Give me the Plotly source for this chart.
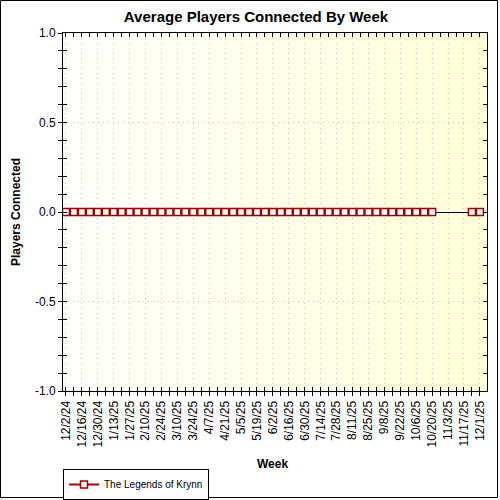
import plotly.graph_objects as go

# weekly dates and average players (None = no data that week)
weeks = ['2024-12-02', '2024-12-09', '2024-12-16', '2024-12-23', '2024-12-30',
         '2025-01-06', '2025-01-13', '2025-01-20', '2025-01-27',
         '2025-02-03', '2025-02-10', '2025-02-17', '2025-02-24',
         '2025-03-03', '2025-03-10', '2025-03-17', '2025-03-24', '2025-03-31',
         '2025-04-07', '2025-04-14', '2025-04-21', '2025-04-28',
         '2025-05-05', '2025-05-12', '2025-05-19', '2025-05-26',
         '2025-06-02', '2025-06-09', '2025-06-16', '2025-06-23', '2025-06-30',
         '2025-07-07', '2025-07-14', '2025-07-21', '2025-07-28',
         '2025-08-04', '2025-08-11', '2025-08-18', '2025-08-25',
         '2025-09-01', '2025-09-08', '2025-09-15', '2025-09-22', '2025-09-29',
         '2025-10-06', '2025-10-13', '2025-10-20', '2025-10-27',
         '2025-11-03', '2025-11-10', '2025-11-17', '2025-11-24', '2025-12-01']
players = [0, 0, 0, 0, 0,
           0, 0, 0, 0,
           0, 0, 0, 0,
           0, 0, 0, 0, 0,
           0, 0, 0, 0,
           0, 0, 0, 0,
           0, 0, 0, 0, 0,
           0, 0, 0, 0,
           0, 0, 0, 0,
           0, 0, 0, 0, 0,
           0, 0, 0, None,
           None, None, None, 0, 0]
series_name = 'The Legends of Krynn'
y_ticks = [-1.0, -0.5, 0.0, 0.5, 1.0]
y_labels = ['-1.0', '-0.5', '0.0', '0.5', '1.0']

FONT = 'Liberation Sans, Arial, sans-serif'
DAY = 86400000
L, R, T, B = 63, 13, 33, 109
PW, PH = 500 - L - R, 500 - T - B

fig = go.Figure()
fig.add_trace(go.Scatter(
    x=weeks, y=players, name=series_name, mode='lines+markers',
    connectgaps=False,
    line=dict(color='#b00000', width=2),
    marker=dict(symbol='square', size=7, color='white',
                line=dict(color='#a00000', width=1.5)),
))
# invisible trace so the overlay axes get drawn
fig.add_trace(go.Scatter(x=weeks[:1], y=players[:1], xaxis='x2', yaxis='y2',
                         mode='markers', marker=dict(opacity=0),
                         showlegend=False, hoverinfo='skip'))

# background gradient, white -> pale yellow
shapes = []
n = 40
for i in range(n):
    t = i / (n - 1)
    c = 'rgb(255,255,%d)' % round(252 - 36 * t)
    shapes.append(dict(type='rect', xref='x domain', yref='y domain',
                       x0=i / n, x1=(i + 1) / n + 0.002, y0=0, y1=1,
                       fillcolor=c, line=dict(width=0), layer='below'))
# outer frame
shapes.append(dict(type='rect', xref='paper', yref='paper',
                   x0=(0.5 - L) / PW, x1=(497.5 - L) / PW,
                   y0=-(497.5 - T - PH) / PH, y1=(T - 0.5) / PH + 1,
                   line=dict(color='black', width=1), layer='above'))

xrange = ['2024-11-29 10:00', '2025-12-07 06:00']
fig.update_layout(
    width=500, height=500,
    margin=dict(l=L, r=R, t=T, b=B),
    paper_bgcolor='white', plot_bgcolor='white',
    font=dict(family=FONT, size=12, color='black'),
    title=dict(text='<b>Average Players Connected By Week</b>',
               x=256 / 500, xref='container', xanchor='center',
               y=1 - 17 / 500, yref='container', yanchor='middle',
               font=dict(size=15)),
    shapes=shapes,
    showlegend=True,
    legend=dict(x=L / 500, y=1 - 484.5 / 500, xref='container', yref='container',
                xanchor='left', yanchor='middle',
                orientation='h', bordercolor='black', borderwidth=1,
                bgcolor='white', font=dict(size=10), itemwidth=30,
                tracegroupgap=0),
    xaxis=dict(type='date', range=xrange, tick0='2024-12-02', dtick=14 * DAY,
               tickformat='%-m/%-d/%y', tickangle=-90,
               ticks='outside', ticklen=4, tickcolor='black',
               minor=dict(dtick=7 * DAY, tick0='2024-12-02', ticks='outside',
                          ticklen=4, tickcolor='black', showgrid=False),
               showgrid=True, gridcolor='#c4c4c4', griddash='1px,4px', gridwidth=1,
               showline=True, linecolor='black', linewidth=1, mirror=True,
               zeroline=False, automargin=False, fixedrange=True),
    xaxis2=dict(type='date', overlaying='x', matches='x', side='bottom',
                tick0='2024-12-02', dtick=7 * DAY, ticks='inside', ticklen=4,
                tickcolor='black', mirror='ticks', showticklabels=False,
                showgrid=False, zeroline=False, showline=False),
    yaxis=dict(range=[-1, 1], tickvals=y_ticks, ticktext=y_labels,
               ticks='outside', ticklen=4, tickcolor='black',
               minor=dict(dtick=0.1, ticks='outside', ticklen=4,
                          tickcolor='black', showgrid=False),
               showgrid=True, gridcolor='#c4c4c4', griddash='1px,4px', gridwidth=1,
               showline=True, linecolor='black', linewidth=1, mirror=True,
               zeroline=True, zerolinecolor='black', zerolinewidth=1,
               automargin=False, fixedrange=True),
    yaxis2=dict(range=[-1, 1], overlaying='y', matches='y', side='left',
                dtick=0.1, ticks='inside', ticklen=4, tickcolor='black',
                mirror='ticks', showticklabels=False, showgrid=False,
                zeroline=False, showline=False),
    annotations=[
        dict(text='<b>Week</b>', xref='paper', yref='paper',
             x=(272 - L) / PW, y=-(464 - T - PH) / PH, showarrow=False,
             xanchor='center', yanchor='middle', font=dict(size=12)),
        dict(text='<b>Players Connected</b>', xref='paper', yref='paper',
             x=(16 - L) / PW, y=0.5, showarrow=False, textangle=-90,
             xanchor='center', yanchor='middle', font=dict(size=12)),
    ],
)

# drop the page's default body margin so the 500x500 figure fills the window
fig.write_html('out.html', config={'displayModeBar': False},
               post_script="document.body.style.margin='0';")
